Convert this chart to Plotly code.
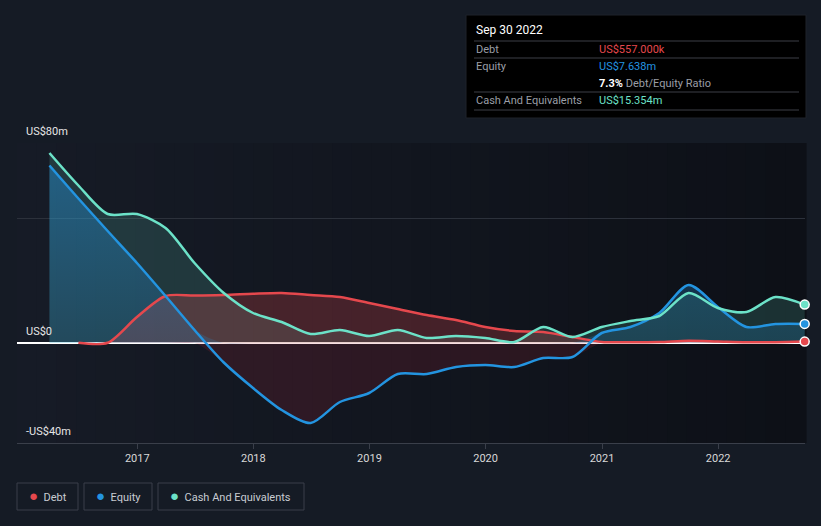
import plotly.graph_objects as go

dates = ["2016-03-31", "2016-06-30", "2016-09-30", "2016-12-31",
         "2017-03-31", "2017-06-30", "2017-09-30", "2017-12-31",
         "2018-03-31", "2018-06-30", "2018-09-30", "2018-12-31",
         "2019-03-31", "2019-06-30", "2019-09-30", "2019-12-31",
         "2020-03-31", "2020-06-30", "2020-09-30", "2020-12-31",
         "2021-03-31", "2021-06-30", "2021-09-30", "2021-12-31",
         "2022-03-31", "2022-06-30", "2022-09-30"]

cash = [76, 63, 51.6, 51.6, 46, 32, 20, 12, 8.4, 3.6, 5.2, 2.8, 5.2, 2.0, 2.8, 2.0,
        0.4, 6.4, 2.4, 6.4, 8.8, 10.8, 20.0, 14.0, 12.4, 18.4, 15.354]
equity = [71, 57.8, 44.8, 32, 18.8, 5.2, -7.8, -18, -26.8, -32, -23.6, -20, -12.4, -12.4, -9.6, -8.8,
          -9.6, -6, -5.6, 4, 6.4, 12, 23.2, 14.4, 6.4, 7.6, 7.638]
debt_dates = dates[1:]
debt = [0.1, 0.1, 10.4, 18.8, 19, 19.2, 19.7, 20, 19.2, 18.4, 16, 13.6, 11.2, 9.2, 6.4,
        4.8, 4.4, 2.4, 0.4, 0.3, 0.4, 0.9, 0.6, 0.3, 0.3, 0.557]

year_ticks = ["2017-01-01", "2018-01-01", "2019-01-01", "2020-01-01", "2021-01-01", "2022-01-01"]
year_labels = ["2017", "2018", "2019", "2020", "2021", "2022"]
y_labels = ["US$80m", "US$0", "-US$40m"]
y_label_vals = [80, 0, -40]

RED = "#e5484d"
BLUE = "#2394e0"
TEAL = "#6ce2c8"
BG = "#151b25"

W, H = 821, 526
L, R, T, B = 17, 805, 143, 443


def px(x):
    return (x - L) / (R - L)


def py(y):
    return (B - y) / (B - T)


fig = go.Figure()
SM = 0.8

# Cash area
fig.add_trace(go.Scatter(x=dates, y=cash, mode="none", fill="tozeroy",
                         fillcolor="rgba(108,226,200,0.16)", line=dict(shape="spline", smoothing=SM),
                         hoverinfo="skip", showlegend=False))
# Debt area
fig.add_trace(go.Scatter(x=debt_dates, y=debt, mode="none", fill="tozeroy",
                         fillcolor="rgba(229,72,77,0.25)", line=dict(shape="spline", smoothing=SM),
                         hoverinfo="skip", showlegend=False))
# Equity areas (positive blue, negative maroon)
eq_pos = [max(v, 0) for v in equity]
eq_neg = [min(v, 0) for v in equity]
fig.add_trace(go.Scatter(x=dates, y=eq_pos, mode="none", fill="tozeroy",
                         fillgradient=dict(type="vertical",
                                           colorscale=[[0, "rgba(35,148,224,0.18)"],
                                                       [1, "rgba(35,148,224,0.42)"]]),
                         line=dict(shape="spline", smoothing=SM), hoverinfo="skip", showlegend=False))
fig.add_trace(go.Scatter(x=dates, y=eq_neg, mode="none", fill="tozeroy",
                         fillcolor="rgba(200,40,60,0.15)", line=dict(shape="spline", smoothing=SM),
                         hoverinfo="skip", showlegend=False))

# Lines
fig.add_trace(go.Scatter(x=debt_dates, y=debt, mode="lines",
                         line=dict(color=RED, width=2.5, shape="spline", smoothing=SM),
                         name="Debt", showlegend=False))
fig.add_trace(go.Scatter(x=dates, y=equity, mode="lines",
                         line=dict(color=BLUE, width=2.5, shape="spline", smoothing=SM),
                         name="Equity", showlegend=False))
fig.add_trace(go.Scatter(x=dates, y=cash, mode="lines",
                         line=dict(color=TEAL, width=2.5, shape="spline", smoothing=SM),
                         name="Cash And Equivalents", showlegend=False))

# End markers
for xs, ys, c in [(debt_dates, debt, RED), (dates, equity, BLUE), (dates, cash, TEAL)]:
    fig.add_trace(go.Scatter(x=[xs[-1]], y=[ys[-1]], mode="markers",
                             marker=dict(color=c, size=9, line=dict(color="white", width=1.5)),
                             showlegend=False, hoverinfo="skip", cliponaxis=False))

shapes = []
# plot background gradient (left light -> right dark)
n = 40
c0 = (0x16, 0x1b, 0x26)
c1 = (0x0d, 0x10, 0x17)
for i in range(n):
    t = i / (n - 1)
    col = tuple(round(c0[k] + (c1[k] - c0[k]) * t) for k in range(3))
    shapes.append(dict(type="rect", xref="x domain", yref="y domain",
                       x0=i / n, x1=(i + 1) / n + 0.002, y0=0, y1=1,
                       fillcolor="rgb(%d,%d,%d)" % col, line=dict(width=0), layer="below"))

# Tooltip box
shapes.append(dict(type="rect", xref="paper", yref="paper",
                   x0=px(466), x1=px(806), y0=py(118), y1=py(15),
                   fillcolor="#000000", line=dict(color="#1e222a", width=1), layer="above"))
for yy in [41, 58, 92, 110]:
    shapes.append(dict(type="line", xref="paper", yref="paper",
                       x0=px(474), x1=px(799), y0=py(yy), y1=py(yy),
                       line=dict(color="#3c3f46", width=1), layer="above"))

annotations = []
FONT = "Roboto, Arial, sans-serif"


def ann(x, y, text, color, size=11, xanchor="left", **kw):
    annotations.append(dict(xref="paper", yref="paper", x=px(x), y=py(y), text=text,
                            showarrow=False, xanchor=xanchor, yanchor="middle",
                            font=dict(family=FONT, size=size, color=color), **kw))


ann(474, 30, "Sep 30 2022", "#ffffff", 12)
ann(474, 49, "Debt", "#9a9ea6")
ann(597, 49, "US$557.000k", RED)
ann(474, 66, "Equity", "#9a9ea6")
ann(597, 66, "US$7.638m", BLUE)
ann(597, 83, "<b>7.3%</b> <span style='color:#9a9ea6'>Debt/Equity Ratio</span>", "#ffffff")
ann(474, 100, "Cash And Equivalents", "#9a9ea6")
ann(597, 100, "US$15.354m", TEAL)

for lab, v in zip(y_labels, y_label_vals):
    ypix = B - (v + 40) / 120 * (B - T) - 12
    ann(24, ypix, lab, "#e6e6e6", 11)

# legend boxes
legend_items = [("Debt", RED, 17, 78), ("Equity", BLUE, 84, 152), ("Cash And Equivalents", TEAL, 158, 304)]
for name, c, x0, x1 in legend_items:
    shapes.append(dict(type="rect", xref="paper", yref="paper",
                       x0=px(x0), x1=px(x1), y0=py(510), y1=py(483),
                       fillcolor="rgba(0,0,0,0)", line=dict(color="#3a3f4b", width=1)))
    ann((x0 + x1) / 2, 496.5,
        "<span style='color:%s;font-size:15px'>●</span>&nbsp;&nbsp;%s" % (c, name), "#c8ccd2", 11,
        xanchor="center")

fig.update_layout(
    width=W, height=H,
    margin=dict(l=L, r=W - R, t=T, b=H - B, pad=0),
    paper_bgcolor=BG, plot_bgcolor=BG,
    showlegend=False,
    shapes=shapes, annotations=annotations,
    font=dict(family=FONT, color="#d8d8d8"),
    xaxis=dict(type="date", range=["2015-12-20", "2022-10-01"],
               tickvals=year_ticks, ticktext=year_labels,
               showgrid=False, zeroline=False, showline=True, linecolor="#3a3f4a", linewidth=1,
               ticks="outside", ticklen=5, tickcolor="#3a3f4a",
               tickfont=dict(family=FONT, size=11, color="#d8d8d8")),
    yaxis=dict(range=[-40, 80], tickvals=[50, 80], showticklabels=False,
               showgrid=True, gridcolor="#2c313b", gridwidth=1,
               zeroline=True, zerolinecolor="#ffffff", zerolinewidth=1.5,
               showline=False),
)

fig.write_html("out.html", config={"displayModeBar": False},
               post_script="document.body.style.margin='0';document.body.style.overflow='hidden';"
                           "document.body.style.background='%s';" % BG)
